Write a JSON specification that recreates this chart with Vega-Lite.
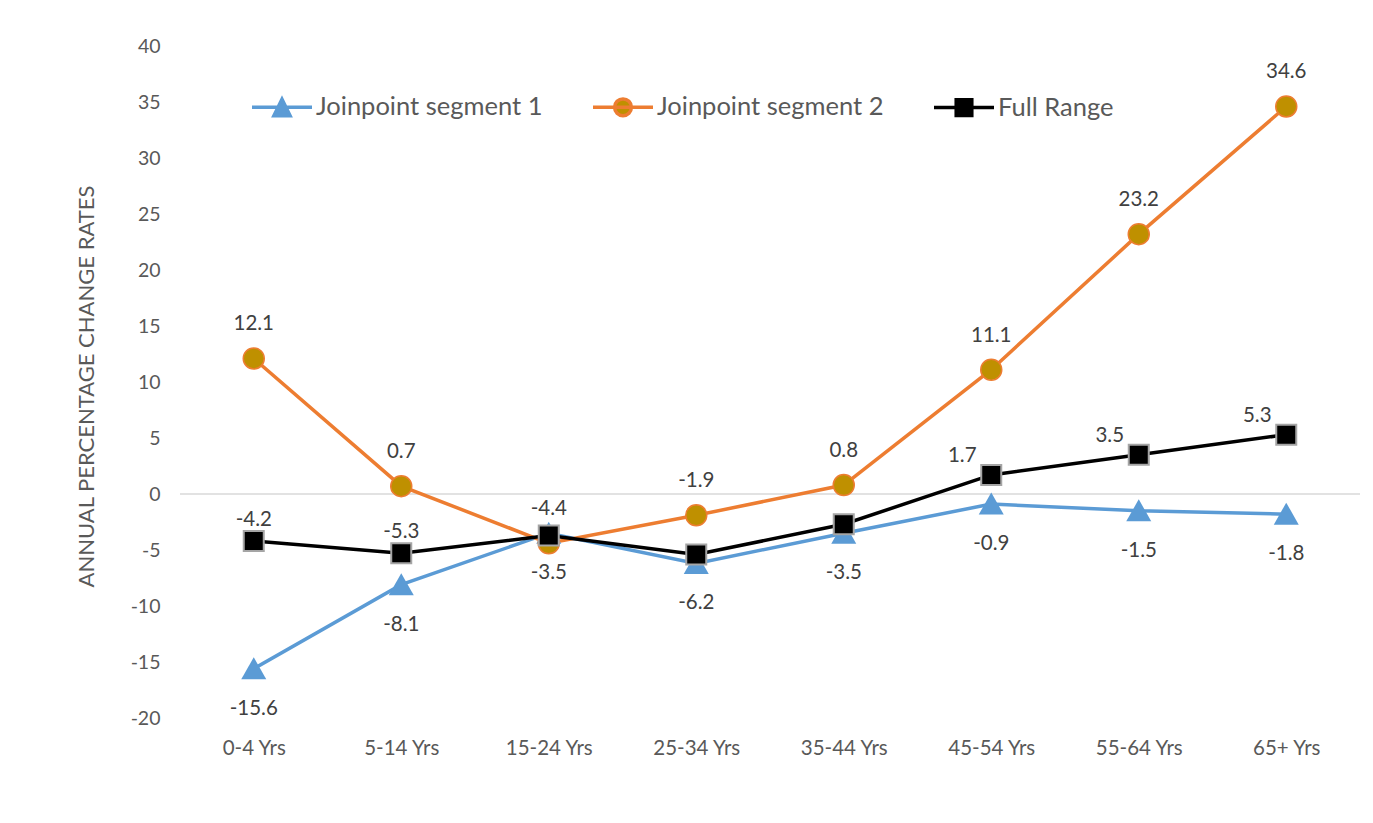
{
  "$schema": "https://vega.github.io/schema/vega-lite/v6.json",
  "width": 1180,
  "height": 672,
  "autosize": "none",
  "padding": {"left": 180, "top": 46, "right": 13, "bottom": 105},
  "background": "white",
  "config": {
    "view": {"stroke": null},
    "font": "Lato",
    "text": {"font": "Lato"},
    "locale": {
      "number": {"decimal": ".", "thousands": ",", "grouping": [3], "currency": ["$", ""], "minus": "-"}
    }
  },
  "data": {
    "values": [
      {"age": "0-4 Yrs", "series": "Joinpoint segment 1", "value": -15.6},
      {"age": "5-14 Yrs", "series": "Joinpoint segment 1", "value": -8.1},
      {"age": "15-24 Yrs", "series": "Joinpoint segment 1", "value": -3.5},
      {"age": "25-34 Yrs", "series": "Joinpoint segment 1", "value": -6.2},
      {"age": "35-44 Yrs", "series": "Joinpoint segment 1", "value": -3.5},
      {"age": "45-54 Yrs", "series": "Joinpoint segment 1", "value": -0.9},
      {"age": "55-64 Yrs", "series": "Joinpoint segment 1", "value": -1.5},
      {"age": "65+ Yrs", "series": "Joinpoint segment 1", "value": -1.8},
      {"age": "0-4 Yrs", "series": "Joinpoint segment 2", "value": 12.1},
      {"age": "5-14 Yrs", "series": "Joinpoint segment 2", "value": 0.7},
      {"age": "15-24 Yrs", "series": "Joinpoint segment 2", "value": -4.4},
      {"age": "25-34 Yrs", "series": "Joinpoint segment 2", "value": -1.9},
      {"age": "35-44 Yrs", "series": "Joinpoint segment 2", "value": 0.8},
      {"age": "45-54 Yrs", "series": "Joinpoint segment 2", "value": 11.1},
      {"age": "55-64 Yrs", "series": "Joinpoint segment 2", "value": 23.2},
      {"age": "65+ Yrs", "series": "Joinpoint segment 2", "value": 34.6},
      {"age": "0-4 Yrs", "series": "Full Range", "value": -4.2},
      {"age": "5-14 Yrs", "series": "Full Range", "value": -5.3},
      {"age": "15-24 Yrs", "series": "Full Range", "value": -3.7},
      {"age": "25-34 Yrs", "series": "Full Range", "value": -5.4},
      {"age": "35-44 Yrs", "series": "Full Range", "value": -2.7},
      {"age": "45-54 Yrs", "series": "Full Range", "value": 1.7},
      {"age": "55-64 Yrs", "series": "Full Range", "value": 3.5},
      {"age": "65+ Yrs", "series": "Full Range", "value": 5.3}
    ]
  },
  "layer": [
    {
      "data": {"values": [{}]},
      "mark": {"type": "rule", "color": "#D9D9D9", "strokeWidth": 1.5},
      "encoding": {"y": {"datum": 0, "type": "quantitative"}}
    },
    {
      "mark": {"type": "line", "strokeWidth": 3.5},
      "encoding": {
        "x": {
          "field": "age", "type": "ordinal",
          "sort": ["0-4 Yrs", "5-14 Yrs", "15-24 Yrs", "25-34 Yrs", "35-44 Yrs", "45-54 Yrs", "55-64 Yrs", "65+ Yrs"],
          "scale": {"type": "point", "padding": 0.5},
          "axis": {
            "title": null, "domain": false, "ticks": false, "tickSize": 0, "labelAngle": 0,
            "labelPadding": 20, "labelFontSize": 20.5, "labelColor": "#595959", "labelFont": "Lato"
          }
        },
        "y": {
          "field": "value", "type": "quantitative",
          "scale": {"domain": [-20, 40], "nice": false, "zero": false},
          "axis": {
            "title": "ANNUAL PERCENTAGE CHANGE RATES",
            "values": [-20, -15, -10, -5, 0, 5, 10, 15, 20, 25, 30, 35, 40],
            "grid": false, "domain": false, "ticks": false, "tickSize": 0,
            "labelPadding": 20, "labelFontSize": 19.5, "labelColor": "#595959", "labelFont": "Lato",
            "titleFont": "Lato", "titleFontSize": 22, "titleFontWeight": "normal", "titleColor": "#595959",
            "titleAngle": 270, "titleX": -94, "titleY": 340, "titleAlign": "center", "titleBaseline": "middle"
          }
        },
        "color": {
          "field": "series", "type": "nominal",
          "scale": {
            "domain": ["Joinpoint segment 1", "Joinpoint segment 2", "Full Range"],
            "range": ["#5B9BD5", "#ED7D31", "#000000"]
          },
          "legend": {
            "title": null, "orient": "none", "legendX": 70, "legendY": 29, "direction": "horizontal",
            "symbolSize": 3600, "labelFontSize": 25.5, "labelColor": "#595959", "labelFont": "Lato",
            "columnPadding": 43, "labelOffset": 2, "labelLimit": 400,
            "encode": {
              "symbols": {
                "update": {
                  "shape": {"signal": "datum.value === 'Joinpoint segment 1' ? 'M-1,0H1M0,-0.27L0.27,0.28H-0.27Z' : datum.value === 'Joinpoint segment 2' ? 'M-1,0H1M-0.28,0A0.28,0.28,0,1,0,0.28,0A0.28,0.28,0,1,0,-0.28,0Z' : 'M-1,0H1M-0.26,-0.26H0.26V0.26H-0.26Z'"},
                  "fill": {"signal": "datum.value === 'Joinpoint segment 1' ? '#5B9BD5' : datum.value === 'Joinpoint segment 2' ? '#BF9000' : '#000000'"},
                  "stroke": {"signal": "datum.value === 'Joinpoint segment 1' ? '#5B9BD5' : datum.value === 'Joinpoint segment 2' ? '#ED7D31' : '#000000'"},
                  "strokeWidth": {"value": 3.5},
                  "opacity": {"value": 1},
                  "fillOpacity": {"value": 1}
                }
              }
            }
          }
        },
        "order": {"value": null}
      }
    },
    {
      "transform": [{"filter": "datum.series === 'Joinpoint segment 1'"}],
      "mark": {"type": "point", "shape": "M0,-1.15L1.25,1.05H-1.25Z", "filled": true, "color": "#5B9BD5", "size": 400, "opacity": 1},
      "encoding": {
        "x": {"field": "age", "type": "ordinal", "sort": ["0-4 Yrs", "5-14 Yrs", "15-24 Yrs", "25-34 Yrs", "35-44 Yrs", "45-54 Yrs", "55-64 Yrs", "65+ Yrs"]},
        "y": {"field": "value", "type": "quantitative"}
      }
    },
    {
      "transform": [{"filter": "datum.series === 'Joinpoint segment 2'"}],
      "mark": {"type": "point", "shape": "circle", "filled": true, "fill": "#BF9000", "stroke": "#ED7D31", "strokeWidth": 1.5, "size": 441, "opacity": 1},
      "encoding": {
        "x": {"field": "age", "type": "ordinal", "sort": ["0-4 Yrs", "5-14 Yrs", "15-24 Yrs", "25-34 Yrs", "35-44 Yrs", "45-54 Yrs", "55-64 Yrs", "65+ Yrs"]},
        "y": {"field": "value", "type": "quantitative"}
      }
    },
    {
      "transform": [{"filter": "datum.series === 'Full Range'"}],
      "mark": {"type": "point", "shape": "square", "filled": true, "fill": "#000000", "stroke": "#A5A5A5", "strokeWidth": 2, "size": 400, "opacity": 1},
      "encoding": {
        "x": {"field": "age", "type": "ordinal", "sort": ["0-4 Yrs", "5-14 Yrs", "15-24 Yrs", "25-34 Yrs", "35-44 Yrs", "45-54 Yrs", "55-64 Yrs", "65+ Yrs"]},
        "y": {"field": "value", "type": "quantitative"}
      }
    },
    {
      "transform": [{"filter": "datum.series === 'Joinpoint segment 2'"}],
      "mark": {"type": "text", "dy": -34, "fontSize": 20.5, "color": "#404040", "font": "Lato"},
      "encoding": {
        "x": {"field": "age", "type": "ordinal", "sort": ["0-4 Yrs", "5-14 Yrs", "15-24 Yrs", "25-34 Yrs", "35-44 Yrs", "45-54 Yrs", "55-64 Yrs", "65+ Yrs"]},
        "y": {"field": "value", "type": "quantitative"},
        "text": {"field": "value", "type": "quantitative", "format": ".1f"}
      }
    },
    {
      "transform": [{"filter": "datum.series === 'Joinpoint segment 1'"}],
      "mark": {"type": "text", "dy": 40, "fontSize": 20.5, "color": "#404040", "font": "Lato"},
      "encoding": {
        "x": {"field": "age", "type": "ordinal", "sort": ["0-4 Yrs", "5-14 Yrs", "15-24 Yrs", "25-34 Yrs", "35-44 Yrs", "45-54 Yrs", "55-64 Yrs", "65+ Yrs"]},
        "y": {"field": "value", "type": "quantitative"},
        "text": {"field": "value", "type": "quantitative", "format": ".1f"}
      }
    },
    {
      "transform": [{"filter": "datum.series === 'Full Range' && (datum.age === '0-4 Yrs' || datum.age === '5-14 Yrs')"}],
      "mark": {"type": "text", "dy": -21, "fontSize": 20.5, "color": "#404040", "font": "Lato"},
      "encoding": {
        "x": {"field": "age", "type": "ordinal", "sort": ["0-4 Yrs", "5-14 Yrs", "15-24 Yrs", "25-34 Yrs", "35-44 Yrs", "45-54 Yrs", "55-64 Yrs", "65+ Yrs"]},
        "y": {"field": "value", "type": "quantitative"},
        "text": {"field": "value", "type": "quantitative", "format": ".1f"}
      }
    },
    {
      "transform": [{"filter": "datum.series === 'Full Range' && (datum.age === '45-54 Yrs' || datum.age === '55-64 Yrs' || datum.age === '65+ Yrs')"}],
      "mark": {"type": "text", "dx": -29, "dy": -19, "fontSize": 20.5, "color": "#404040", "font": "Lato"},
      "encoding": {
        "x": {"field": "age", "type": "ordinal", "sort": ["0-4 Yrs", "5-14 Yrs", "15-24 Yrs", "25-34 Yrs", "35-44 Yrs", "45-54 Yrs", "55-64 Yrs", "65+ Yrs"]},
        "y": {"field": "value", "type": "quantitative"},
        "text": {"field": "value", "type": "quantitative", "format": ".1f"}
      }
    }
  ]
}
